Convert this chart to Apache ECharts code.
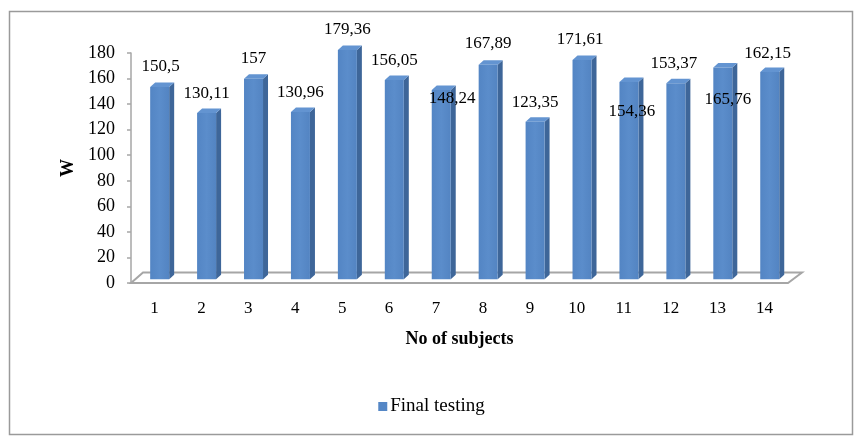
<!DOCTYPE html>
<html>
<head>
<meta charset="utf-8">
<script src="https://cdn.jsdelivr.net/npm/echarts@6/dist/echarts.min.js"></script>
<style>html,body{margin:0;padding:0;background:#fff}#c{width:863px;height:442px}</style>
</head>
<body>
<div id="c"></div>
<script>
const categories = ['1','2','3','4','5','6','7','8','9','10','11','12','13','14'];
const finalTesting = [150.5,130.11,157,130.96,179.36,156.05,148.24,167.89,123.35,171.61,154.36,153.37,165.76,162.15];
const seriesName = 'Final testing';
const xTitle = 'No of subjects';
const yTitle = 'W';
const yMin = 0, yMax = 180, yStep = 20;

// label layout tweaks (not data): horizontal / vertical nudges of value labels
const labelDx = [1,0,0,0,0,0,11,0,0,-2,3,-2,5,-2];
const labelDy = [-20,-20,-20,-19,-21,-19,9,-21,-19,-20,29,-20,32,-19];

const FONT = 'Liberation Serif';
const chart = echarts.init(document.getElementById('c'));

function fmt(v){ return String(v).replace('.', ','); }

const option = {
  animation: false,
  backgroundColor: '#fff',
  graphic: [{
    type: 'rect', left: 7, top: 9, shape: {width: 843, height: 423},
    style: {fill: 'none', stroke: '#9a9a9a', lineWidth: 1.5}, silent: true
  }],
  grid: {left: 131, right: 75, top: 53, bottom: 159},
  legend: {
    data: [{name: seriesName, icon: 'rect'}],
    left: 'center', top: 392, itemWidth: 9, itemHeight: 9, itemGap: 4,
    textStyle: {fontFamily: FONT, fontSize: 19, color: '#000', padding: [0,0,0,-2]}
  },
  xAxis: {
    type: 'category', data: categories,
    axisLine: {show: false}, axisTick: {show: false},
    axisLabel: {fontFamily: FONT, fontSize: 17, color: '#000', margin: 17},
    name: xTitle, nameLocation: 'middle', nameGap: 47,
    nameTextStyle: {fontFamily: FONT, fontSize: 18, fontWeight: 'bold', color: '#000'}
  },
  yAxis: {
    type: 'value', min: yMin, max: yMax, interval: yStep,
    axisLine: {show: true, lineStyle: {color: '#a6a6a6', width: 1.5}},
    axisTick: {show: true, length: 4, lineStyle: {color: '#a6a6a6', width: 1.5}},
    splitLine: {show: false},
    axisLabel: {fontFamily: FONT, fontSize: 18, color: '#000', margin: 16},
    name: yTitle, nameLocation: 'middle', nameGap: 54, nameRotate: 90,
    nameTextStyle: {fontFamily: FONT, fontSize: 18, fontWeight: 'bold', color: '#000'}
  },
  series: [
    {
      type: 'custom', name: '_floor', silent: true, z: 1,
      data: [[0, 0]],
      renderItem: function(params, api){
        const cs = params.coordSys;
        const yf = cs.y + cs.height;
        const x0 = cs.x, x1 = cs.x + cs.width;
        return {
          type: 'polygon',
          shape: {points: [[x0, yf],[x1, yf],[x1 + 14, yf - 10.5],[x0 + 12, yf - 10.5]]},
          style: {fill: '#fff', stroke: '#a6a6a6', lineWidth: 2}
        };
      }
    },
    {
      type: 'custom', name: seriesName, z: 3,
      itemStyle: {color: '#5587c6'},
      data: finalTesting.map((v, i) => [i, v]),
      renderItem: function(params, api){
        const i = api.value(0), v = api.value(1);
        const base = api.coord([i, 0]);
        const top = api.coord([i, v]);
        const cx = base[0] + 5.2;
        const yb = base[1] - 3.7, yt = top[1] - 3.7;
        const hw = 9.5, dx = 5, dy = 4.5;
        const xl = cx - hw, xr = cx + hw;
        return {
          type: 'group',
          children: [
            {type: 'polygon', shape: {points: [[xr, yb],[xr, yt],[xr + dx, yt - dy],[xr + dx, yb - dy]]},
             style: {fill: '#3e6699'}},
            {type: 'polygon', shape: {points: [[xl, yt],[xr, yt],[xr + dx, yt - dy],[xl + dx, yt - dy]]},
             style: {fill: '#6394d1'}},
            {type: 'rect', shape: {x: xl, y: yt, width: xr - xl, height: yb - yt},
             style: {fill: new echarts.graphic.LinearGradient(0, 0, 1, 0, [
               {offset: 0, color: '#5385c4'}, {offset: 0.5, color: '#5b8dcb'}, {offset: 1, color: '#5384c2'}])}},
            {type: 'text', z2: 10,
             style: {text: fmt(finalTesting[i]), x: cx + labelDx[i], y: yt + labelDy[i],
                     align: 'center', verticalAlign: 'middle',
                     font: '17px "' + FONT + '"', fill: '#000'}}
          ]
        };
      }
    }
  ]
};
chart.setOption(option);
</script>
</body>
</html>
